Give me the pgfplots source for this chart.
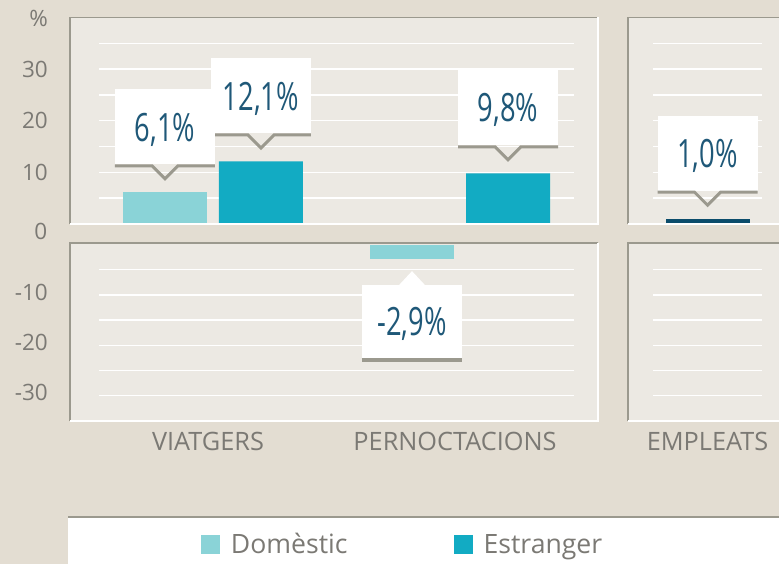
\documentclass[border=0pt]{standalone}
\usepackage{pgfplots}
\pgfplotsset{compat=1.18}
\usepackage{fontspec}
\setmainfont{Open Sans}
\newfontfamily\condfont{Open Sans}[FakeStretch=0.70]
\definecolor{bgc}{HTML}{E3DDD2}
\definecolor{panelc}{HTML}{ECE9E3}
\definecolor{linec}{HTML}{9B998E}
\definecolor{tickc}{HTML}{7B7974}
\definecolor{labc}{HTML}{1F5878}
\definecolor{domc}{HTML}{8AD3D7}
\definecolor{estc}{HTML}{12ABC3}
\definecolor{empc}{HTML}{0B4C6B}

\newcommand\ticksize{\fontsize{22.5}{27}\selectfont}
\newcommand\catsize{\fontsize{25.3}{30}\selectfont}
\newcommand\legsize{\fontsize{26.6}{32}\selectfont}
\newcommand\calsize{\condfont\fontsize{39}{45}\selectfont}

\tikzset{gridline/.style={white, line width=1.3pt}}

% callout above a positive bar: x, shift, y, text
\newcommand\callup[4]{%
  \fill[white] ([shift={(#2-50pt,28pt)}]axis cs:#1,#3) rectangle ([shift={(#2+50pt,103pt)}]axis cs:#1,#3);
  \draw[linec,line width=3pt] ([shift={(#2-50pt,26.5pt)}]axis cs:#1,#3) -- ([shift={(#2-13pt,26.5pt)}]axis cs:#1,#3)
     -- ([shift={(#2,13.5pt)}]axis cs:#1,#3) -- ([shift={(#2+13pt,26.5pt)}]axis cs:#1,#3) -- ([shift={(#2+50pt,26.5pt)}]axis cs:#1,#3);
  \node[anchor=base,inner sep=0pt,text=labc,font=\calsize] at ([shift={(#2,51.3pt)}]axis cs:#1,#3) {#4};
}
% callout below a negative bar
\newcommand\calldown[4]{%
  \fill[white] ([shift={(#2-50pt,-99pt)}]axis cs:#1,#3) rectangle ([shift={(#2+50pt,-26pt)}]axis cs:#1,#3);
  \fill[white] ([shift={(#2-13.5pt,-26.5pt)}]axis cs:#1,#3) -- ([shift={(#2,-12pt)}]axis cs:#1,#3) -- ([shift={(#2+13.5pt,-26.5pt)}]axis cs:#1,#3) -- cycle;
  \draw[linec,line width=3.5pt] ([shift={(#2-50pt,-100.75pt)}]axis cs:#1,#3) -- ([shift={(#2+50pt,-100.75pt)}]axis cs:#1,#3);
  \node[anchor=base,inner sep=0pt,text=labc,font=\calsize] at ([shift={(#2,-76.7pt)}]axis cs:#1,#3) {#4};
}
\newcommand\panelframe{%
  \draw[linec,line width=1.8pt] (rel axis cs:0,0) -- (rel axis cs:0,1) -- (rel axis cs:1,1);
  \draw[white,line width=2pt] (rel axis cs:0,0) -- (rel axis cs:1,0) -- (rel axis cs:1,1);
}

\pgfplotsset{
  panel/.style={
    scale only axis, clip=false, anchor=south west,
    axis line style={draw=none},
    axis background/.style={fill=panelc},
    major tick length=0pt, tick style={draw=none},
    yticklabel style={font=\ticksize, text=tickc, anchor=base east, inner sep=0pt, xshift=-22pt},
    xticklabel style={font=\catsize, text=tickc, anchor=base, inner sep=0pt, yshift=-30pt},
  },
}

\begin{document}
\begin{tikzpicture}
\useasboundingbox (0pt,0pt) rectangle (779pt,564pt);
\clip (0pt,0pt) rectangle (779pt,564pt);
\fill[bgc] (0pt,0pt) rectangle (779pt,564pt);
% legend band
\fill[white] (68pt,0pt) rectangle (790pt,47pt);
\draw[linec,line width=1.5pt] (68pt,47pt) -- (790pt,47pt);
\node[anchor=base east,inner sep=0pt,text=tickc,font=\ticksize] at (48pt,537.3pt) {\%};
\node[anchor=base east,inner sep=0pt,text=tickc,font=\ticksize] at (47.5pt,324pt) {0};

% ---------- top left: positive values ----------
\begin{axis}[panel, at={(70pt,340.2pt)}, width=528pt, height=206.3pt,
  xmin=-0.5789, xmax=1.5587, ymin=0, ymax=40,
  xtick=\empty, ytick={10,20,30}, yticklabels={10,20,30},
  yticklabel style={yshift=-8.3pt},
  legend style={at={(0.2481,-1.5545)}, anchor=west, draw=none, fill=none,
    inner sep=0pt, outer sep=0pt, legend columns=2,
    nodes={inner sep=0pt, text=tickc, font=\legsize},
    /tikz/every odd column/.append style={column sep=11pt},
    /tikz/every even column/.append style={column sep=106pt}},
  legend cell align=left]
\pgfplotsinvokeforeach{5,10,15,20,25,30,35}{\draw[gridline] (axis cs:-0.4615,#1) -- (axis cs:1.4615,#1);}
\addplot[ybar, bar width=84pt, bar shift=-48pt, fill=domc, draw=none,
  legend image code/.code={\fill[domc] (0pt,-9.5pt) rectangle (19pt,9.5pt);}]
  coordinates {(0,6.1)};
\addlegendentry{Domèstic}
\addplot[ybar, bar width=84pt, bar shift=48pt, fill=estc, draw=none,
  legend image code/.code={\fill[estc] (0pt,-9.5pt) rectangle (19pt,9.5pt);}]
  coordinates {(0,12.1) (1,9.8)};
\addlegendentry{Estranger}
\panelframe
\callup{0}{48pt}{12.1}{12,1\%}
\callup{1}{48pt}{9.8}{9,8\%}
\callup{0}{-48pt}{6.1}{6,1\%}
\end{axis}

% ---------- bottom left: negative values ----------
\begin{axis}[panel, at={(70pt,143.3pt)}, width=528pt, height=177.4pt,
  xmin=-0.5789, xmax=1.5587, ymin=-35, ymax=0.25,
  xtick={0,1}, xticklabels={VIATGERS,PERNOCTACIONS},
  xticklabel style={xshift=-5pt},
  ytick={-10,-20,-30}, yticklabels={-10,-20,-30},
  yticklabel style={yshift=-5.4pt}]
\pgfplotsinvokeforeach{-5,-10,-15,-20,-25,-30}{\draw[gridline] (axis cs:-0.4615,#1) -- (axis cs:1.4615,#1);}
\addplot[ybar, bar width=84pt, bar shift=-48pt, fill=domc, draw=none]
  coordinates {(1,-2.9)};
\panelframe
\calldown{1}{-48pt}{-2.9}{-2,9\%}
\end{axis}

% ---------- top right: EMPLEATS ----------
\begin{axis}[panel, at={(628pt,340.2pt)}, width=159pt, height=206.3pt,
  xmin=-0.5, xmax=0.5, ymin=0, ymax=40, xtick=\empty, ytick=\empty]
\pgfplotsinvokeforeach{5,10,15,20,25,30,35}{\draw[gridline] (axis cs:-0.343,#1) -- (axis cs:0.343,#1);}
\addplot[ybar, bar width=84pt, bar shift=0pt, fill=empc, draw=none]
  coordinates {(0,1.0)};
\panelframe
\callup{0}{0pt}{1.0}{1,0\%}
\end{axis}

% ---------- bottom right ----------
\begin{axis}[panel, at={(628pt,143.3pt)}, width=159pt, height=177.4pt,
  xmin=-0.5, xmax=0.5, ymin=-35, ymax=0.25,
  xtick={0}, xticklabels={EMPLEATS}, ytick=\empty]
\pgfplotsinvokeforeach{-5,-10,-15,-20,-25,-30}{\draw[gridline] (axis cs:-0.343,#1) -- (axis cs:0.343,#1);}
\panelframe
\end{axis}
\end{tikzpicture}
\end{document}
